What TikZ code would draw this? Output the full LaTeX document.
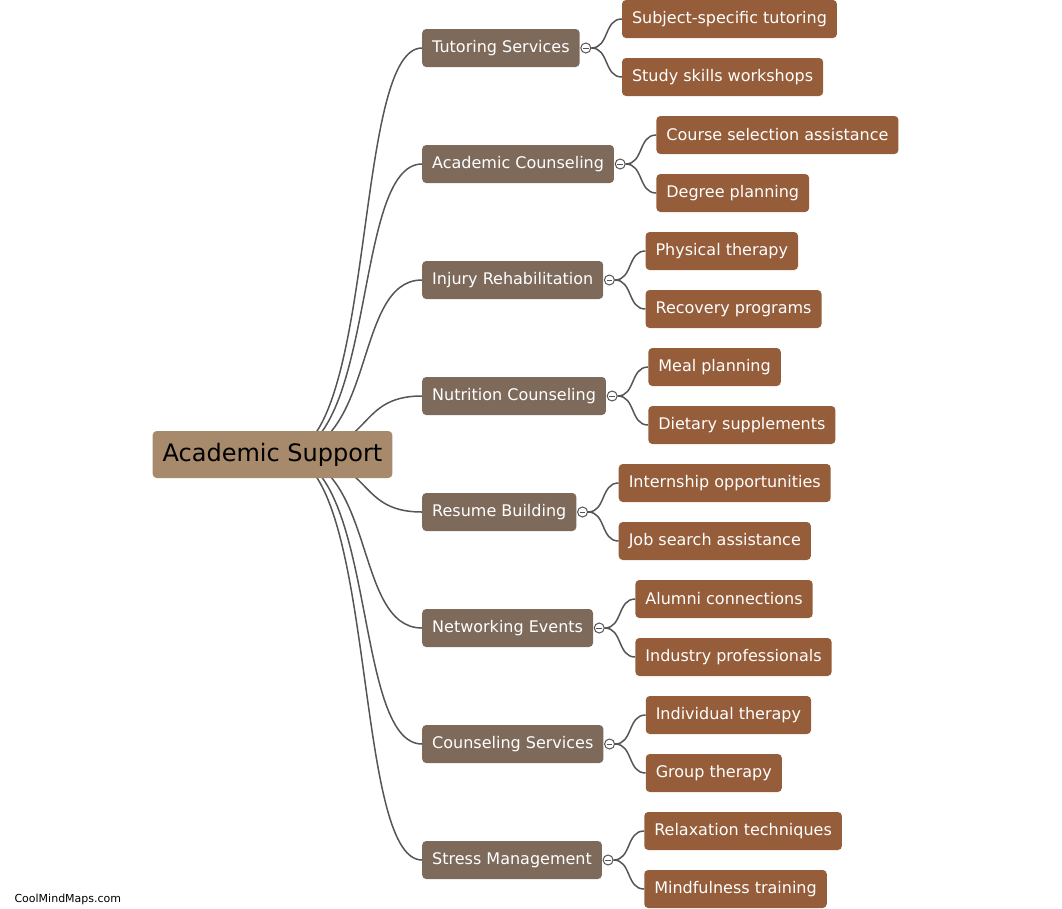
\documentclass[tikz,border=0pt]{standalone}
\usepackage{fontspec}
\setmainfont{DejaVu Sans}
\usepackage{tikz}
\usetikzlibrary{positioning,calc,backgrounds}

\definecolor{rootfill}{HTML}{A68A6B}
\definecolor{topicfill}{HTML}{7E6A5B}
\definecolor{leaffill}{HTML}{955D3A}
\definecolor{linkgray}{HTML}{555555}

\begin{document}
\begin{tikzpicture}[x=1pt, y=-1pt,
  root/.style={rectangle, fill=rootfill, rounded corners=4pt, minimum height=47pt, inner xsep=10pt, text=black, font=\fontsize{24}{28}\selectfont},
  topic/.style={rectangle, fill=topicfill, rounded corners=4pt, minimum height=38pt, inner xsep=10pt, anchor=west, text=white, font=\fontsize{16}{19}\selectfont},
  leaf/.style={topic, fill=leaffill},
  toggle/.style={circle, draw=linkgray, fill=white, line width=1pt, inner sep=0pt, minimum size=10pt,
    path picture={\draw[linkgray, line width=0.8pt] ([xshift=-2.8pt]path picture bounding box.center) -- ([xshift=2.8pt]path picture bounding box.center);}},
  link/.style={draw=linkgray, line width=1.5pt}]

  \useasboundingbox (0,0) rectangle (1062,908);

  \node [root] (root) at (272.5,454.5) {Academic Support};
  \coordinate (hub) at ($(root.center)+(10,0)$);

  % topics
  \node [topic] (tutor) at (422,48) {Tutoring Services};
  \node [topic] (acad) at (422,164) {Academic Counseling};
  \node [topic] (injury) at (422,280) {Injury Rehabilitation};
  \node [topic] (nutri) at (422,396) {Nutrition Counseling};
  \node [topic] (resume) at (422,512) {Resume Building};
  \node [topic] (netw) at (422,628) {Networking Events};
  \node [topic] (couns) at (422,744) {Counseling Services};
  \node [topic] (stress) at (422,860) {Stress Management};

  % toggles
  \node [toggle] (tutorc) at ($(tutor.east)+(6,0)$) {};
  \node [toggle] (acadc) at ($(acad.east)+(6,0)$) {};
  \node [toggle] (injuryc) at ($(injury.east)+(6,0)$) {};
  \node [toggle] (nutric) at ($(nutri.east)+(6,0)$) {};
  \node [toggle] (resumec) at ($(resume.east)+(6,0)$) {};
  \node [toggle] (netwc) at ($(netw.east)+(6,0)$) {};
  \node [toggle] (counsc) at ($(couns.east)+(6,0)$) {};
  \node [toggle] (stressc) at ($(stress.east)+(6,0)$) {};

  % leaves
  \node [leaf] (tutor1) at ($(tutor.east)+(42,-29)$) {Subject-specific tutoring};
  \node [leaf] (tutor2) at ($(tutor.east)+(42,29)$) {Study skills workshops};
  \node [leaf] (acad1) at ($(acad.east)+(42,-29)$) {Course selection assistance};
  \node [leaf] (acad2) at ($(acad.east)+(42,29)$) {Degree planning};
  \node [leaf] (injury1) at ($(injury.east)+(42,-29)$) {Physical therapy};
  \node [leaf] (injury2) at ($(injury.east)+(42,29)$) {Recovery programs};
  \node [leaf] (nutri1) at ($(nutri.east)+(42,-29)$) {Meal planning};
  \node [leaf] (nutri2) at ($(nutri.east)+(42,29)$) {Dietary supplements};
  \node [leaf] (resume1) at ($(resume.east)+(42,-29)$) {Internship opportunities};
  \node [leaf] (resume2) at ($(resume.east)+(42,29)$) {Job search assistance};
  \node [leaf] (netw1) at ($(netw.east)+(42,-29)$) {Alumni connections};
  \node [leaf] (netw2) at ($(netw.east)+(42,29)$) {Industry professionals};
  \node [leaf] (couns1) at ($(couns.east)+(42,-29)$) {Individual therapy};
  \node [leaf] (couns2) at ($(couns.east)+(42,29)$) {Group therapy};
  \node [leaf] (stress1) at ($(stress.east)+(42,-29)$) {Relaxation techniques};
  \node [leaf] (stress2) at ($(stress.east)+(42,29)$) {Mindfulness training};

  \node [anchor=west, font=\fontsize{11}{13}\selectfont] (credit) at (11,899) {CoolMindMaps.com};

  \begin{scope}[on background layer]
    \foreach \t in {tutor,acad,injury,nutri,resume,netw,couns,stress}
      \draw [link] (hub) .. controls +(95,0) and +(-70,0) .. (\t.west);
    \foreach \t in {tutor,acad,injury,nutri,resume,netw,couns,stress} {
      \draw [link] (\t c.east) .. controls +(18,0) and +(-18,0) .. (\t1.west);
      \draw [link] (\t c.east) .. controls +(18,0) and +(-18,0) .. (\t2.west);
    }
  \end{scope}
\end{tikzpicture}
\end{document}
